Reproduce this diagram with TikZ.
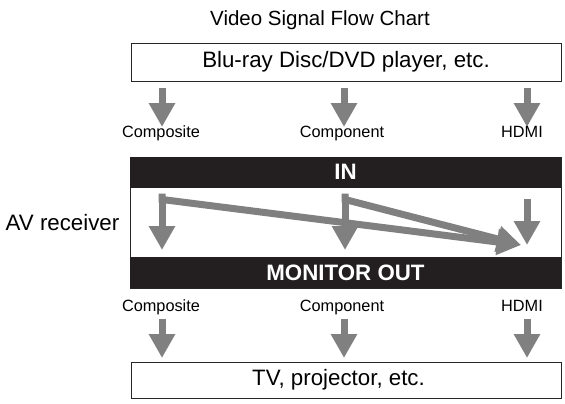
\documentclass[tikz,border=0pt]{standalone}
\usepackage{fontspec}
\setmainfont{Liberation Sans}
\usetikzlibrary{arrows.meta, positioning}

\definecolor{sigGray}{RGB}{128,128,128}
\definecolor{barBlack}{RGB}{35,31,32}

\begin{document}
\begin{tikzpicture}[x=1pt, y=-1pt,
    box/.style={draw=black!85, line width=0.9pt, minimum width=430pt, minimum height=38pt, inner sep=0pt, font=\fontsize{22.3}{25}\selectfont},
    bar/.style={fill=barBlack, minimum width=431pt, minimum height=31pt, inner sep=0pt, text=white, font=\fontsize{22.3}{25}\selectfont\bfseries},
    sig/.style={draw=sigGray, line width=7pt, -{Triangle[width=25pt,length=24pt]}},
    lbl/.style={font=\fontsize{16.3}{19}\selectfont, anchor=base, inner sep=0pt}]
    \useasboundingbox (0,0) rectangle (565,404);

    % title, source and display
    \node[anchor=base, inner sep=0pt, font=\fontsize{20.5}{24}\selectfont] (title) at (320,26) {Video Signal Flow Chart};
    \node[box] (src) at (346,62) {Blu-ray Disc/DVD player, etc.};
    \node[box, minimum height=36pt] (dst) at (346,380) {\hspace{-15pt}TV, projector, etc.};

    % receiver
    \node[draw=black!85, line width=0.9pt, minimum width=431pt, minimum height=131pt, inner sep=0pt] (avr) at (345.5,222.5) {};
    \node[bar, anchor=north] (in) at (avr.north) {IN};
    \node[bar, anchor=south] (out) at (avr.south) {MONITOR OUT};
    \node[left=10pt of avr, inner sep=0pt, font=\fontsize{22.3}{25}\selectfont] (avlbl) {AV receiver};

    % jacks, in and out
    \foreach \x/\lx/\n/\t in {162/161/cp/Composite, 344/342/cn/Component, 527/522/hd/HDMI}{
        \coordinate (\n-ia) at (\x,88);
        \coordinate (\n-ib) at (\x,127);
        \coordinate (\n-oa) at (\x,319);
        \coordinate (\n-ob) at (\x,358);
        \draw[sig] (\n-ia) -- (\n-ib);
        \draw[sig] (\n-oa) -- (\n-ob);
        \node[lbl] (\n-il) at (\lx,137) {\t};
        \node[lbl] (\n-ol) at (\lx,311) {\t};
    }

    % signal paths inside
    \coordinate (cp-top) at (162,199.5);
    \coordinate (cp-end) at (162,250);
    \coordinate (cn-top) at (345,199.5);
    \coordinate (cn-end) at (345,250);
    \coordinate (hd-top) at (527,199);
    \coordinate (hd-end) at (527,245);
    \coordinate (up-end) at (521,245);
    \draw[sig] (cp-top) -- (cp-end);
    \draw[sig] (cn-top) -- (cn-end);
    \draw[sig] (hd-top) -- (hd-end);
    \draw[sig] ([yshift=6pt]cp-top) -- (cp-top) -- (up-end);
    \draw[sig] ([yshift=6pt]cn-top) -- (cn-top) -- (up-end);
\end{tikzpicture}
\end{document}
